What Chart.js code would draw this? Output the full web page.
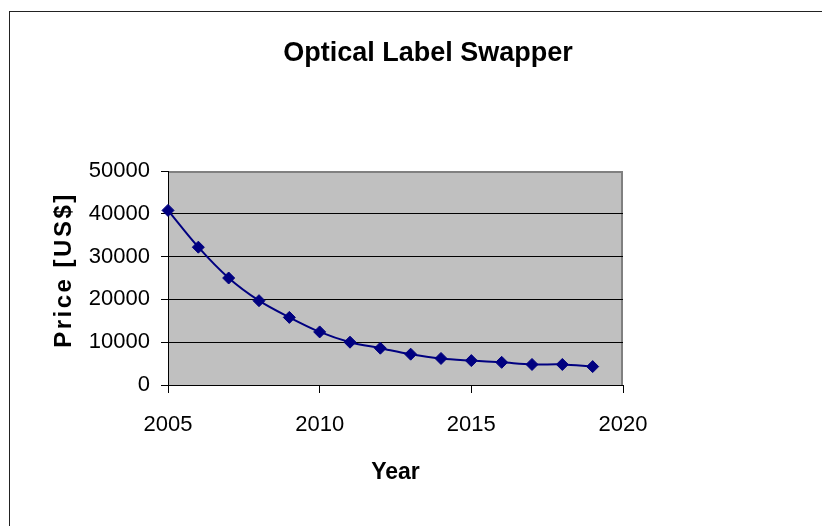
<!DOCTYPE html>
<html>
<head>
<meta charset="utf-8">
<title>Optical Label Swapper</title>
<script src="https://cdn.jsdelivr.net/npm/chart.js@4.4.1/dist/chart.umd.min.js"></script>
<style>
  html, body { margin: 0; padding: 0; background: #fff; }
  #wrap { width: 822px; height: 526px; position: relative; }
  canvas { display: block; }
</style>
</head>
<body>
<div id="wrap"><canvas id="chart" width="822" height="526"></canvas></div>
<script>
// Price forecast for the optical label swapper
const years  = [2005, 2006, 2007, 2008, 2009, 2010, 2011, 2012, 2013, 2014, 2015, 2016, 2017, 2018, 2019];
const prices = [40800, 32200, 25000, 19700, 15800, 12400, 10000, 8600, 7200, 6200, 5700, 5300, 4800, 4800, 4300];

const xTickValues = [2005, 2010, 2015, 2020];
const yTickValues = [0, 10000, 20000, 30000, 40000, 50000];

const FONT = "'Liberation Sans', Arial, Helvetica, sans-serif";

// Grey plot area, grey top/right edge and the outer frame
const plotBackground = {
  id: 'plotBackground',
  beforeDraw(chart) {
    const { ctx, chartArea: a } = chart;
    ctx.save();
    ctx.fillStyle = '#fff';
    ctx.fillRect(0, 0, chart.width, chart.height);
    ctx.strokeStyle = '#222';
    ctx.lineWidth = 1;
    ctx.strokeRect(9.5, 11.5, 1000, 1000);
    ctx.fillStyle = '#c0c0c0';
    ctx.fillRect(a.left, a.top, a.right - a.left, a.bottom - a.top);
    ctx.strokeStyle = '#808080';
    ctx.lineWidth = 2;
    ctx.beginPath();
    ctx.moveTo(a.left, a.top + 1);
    ctx.lineTo(a.right - 1, a.top + 1);
    ctx.lineTo(a.right - 1, a.bottom);
    ctx.stroke();
    ctx.restore();
  }
};

// Rotated axis title drawn with wider letter spacing
const spacedYTitle = {
  id: 'spacedYTitle',
  afterLayout(chart) {
    const s = chart.scales.y;
    if (!s || s._spacedTitle) return;
    const orig = s.drawTitle;
    s.drawTitle = function (area) {
      const c = this.ctx;
      c.save();
      c.translate(0, -8);
      c.letterSpacing = '2.5px';
      orig.call(this, area);
      c.restore();
    };
    s._spacedTitle = true;
  }
};

new Chart(document.getElementById('chart'), {
  type: 'line',
  data: {
    datasets: [{
      label: 'Price',
      data: years.map((yr, i) => ({ x: yr, y: prices[i] })),
      borderColor: '#000080',
      borderWidth: 2,
      tension: 0.33,
      pointStyle: 'rectRot',
      pointRadius: 6,
      pointBackgroundColor: '#000080',
      pointBorderColor: '#000080',
      pointBorderWidth: 1,
      clip: false
    }]
  },
  options: {
    responsive: false,
    animation: false,
    events: [],
    layout: { padding: { left: 34, right: 0, top: 0, bottom: 0 } },
    plugins: {
      legend: { display: false },
      tooltip: { enabled: false },
      title: {
        display: true,
        text: 'Optical Label Swapper',
        color: '#000',
        font: { family: FONT, size: 27, weight: 'bold' },
        padding: { top: 37.5, bottom: 101.1 }
      }
    },
    scales: {
      x: {
        type: 'linear',
        min: 2005,
        max: 2020,
        afterBuildTicks: (s) => { s.ticks = xTickValues.map(v => ({ value: v })); },
        afterFit: (s) => { s.height = 141; },
        ticks: {
          color: '#000',
          font: { family: FONT, size: 22 },
          padding: 19,
          maxRotation: 0,
          callback: (v) => String(v)
        },
        grid: { drawOnChartArea: false, drawTicks: true, tickLength: 8, tickColor: '#000', tickWidth: 1 },
        border: { display: true, color: '#000', width: 1 },
        title: {
          display: true,
          text: 'Year',
          color: '#000',
          font: { family: FONT, size: 23, weight: 'bold' },
          padding: { top: 0, bottom: 40 }
        }
      },
      y: {
        type: 'linear',
        position: 'left',
        min: 0,
        max: 50000,
        afterBuildTicks: (s) => { s.ticks = yTickValues.map(v => ({ value: v })); },
        afterFit: (s) => { s.width = 134; },
        ticks: {
          color: '#000',
          font: { family: FONT, size: 22 },
          padding: 11,
          callback: (v) => String(v)
        },
        grid: {
          color: (c) => (c.tick && c.tick.value === 50000 ? 'rgba(0,0,0,0)' : '#000'),
          lineWidth: 1,
          drawTicks: true,
          tickLength: 7,
          tickColor: '#000',
          tickWidth: 1
        },
        border: { display: true, color: '#000', width: 1 },
        title: {
          display: true,
          text: 'Price [US$]',
          color: '#000',
          font: { family: FONT, size: 24, weight: 'bold' },
          padding: { top: 15.6, bottom: 0 }
        }
      },
      spacer: {
        type: 'linear',
        position: 'right',
        display: true,
        afterFit: (s) => { s.width = 199; },
        ticks: { display: false },
        grid: { display: false, drawTicks: false },
        border: { display: false }
      }
    }
  },
  plugins: [plotBackground, spacedYTitle]
});
</script>
</body>
</html>
